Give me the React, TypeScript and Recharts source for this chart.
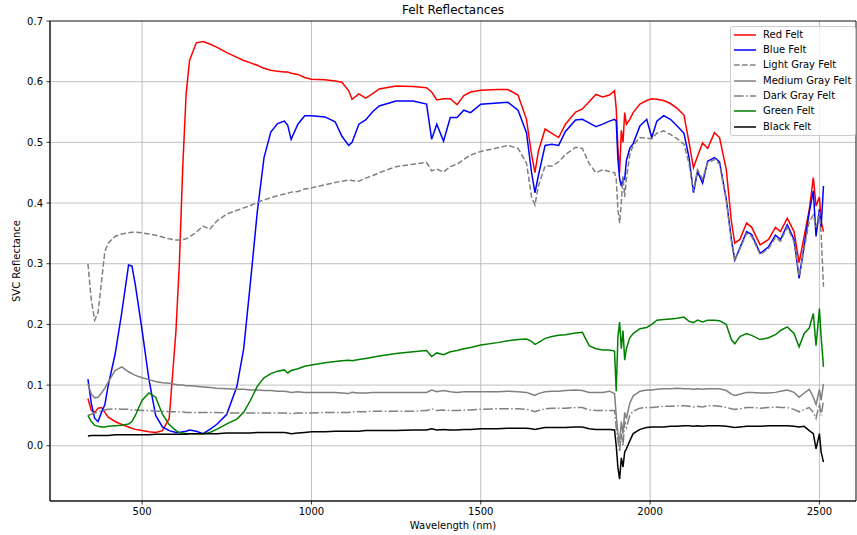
import React from 'react';
import {
  LineChart,
  Line,
  XAxis,
  YAxis,
  CartesianGrid,
  ReferenceArea,
} from 'recharts';

// Wavelength grid (nm) shared by every felt spectrum
const WAVELENGTHS = [
  340, 350, 360, 370, 380, 390, 400, 420, 440, 460,
  470, 480, 500, 520, 540, 560, 580, 600, 610, 620,
  630, 640, 660, 680, 700, 720, 750, 780, 800, 820,
  840, 860, 880, 900, 920, 930, 940, 960, 980, 1000,
  1040, 1070, 1090, 1110, 1120, 1140, 1160, 1180, 1200, 1250,
  1300, 1340, 1355, 1370, 1390, 1410, 1430, 1450, 1470, 1500,
  1550, 1580, 1610, 1635, 1650, 1660, 1670, 1690, 1710, 1730,
  1750, 1780, 1800, 1820, 1840, 1860, 1880, 1895, 1900, 1905,
  1910, 1915, 1920, 1925, 1930, 1940, 1950, 1970, 1990, 2005,
  2020, 2040, 2060, 2080, 2100, 2115, 2128, 2140, 2155, 2170,
  2190, 2205, 2225, 2240, 2250, 2265, 2285, 2300, 2325, 2350,
  2370, 2385, 2405, 2425, 2440, 2455, 2470, 2482, 2490, 2500,
  2505, 2512,
];

const RED_FELT = [
  0.078, 0.058, 0.055, 0.062, 0.063, 0.055, 0.047, 0.040, 0.035, 0.031,
  0.029, 0.027, 0.025, 0.023, 0.022, 0.025, 0.045, 0.19, 0.30, 0.46,
  0.58, 0.635, 0.664, 0.666, 0.662, 0.657, 0.648, 0.640, 0.635, 0.631,
  0.627, 0.622, 0.619, 0.617, 0.616, 0.616, 0.614, 0.612, 0.607, 0.604,
  0.603, 0.601, 0.599, 0.585, 0.571, 0.580, 0.573, 0.580, 0.588, 0.593,
  0.592, 0.590, 0.583, 0.570, 0.572, 0.572, 0.562, 0.577, 0.583, 0.586,
  0.587, 0.587, 0.578, 0.538, 0.480, 0.450, 0.485, 0.522, 0.515, 0.508,
  0.530, 0.550, 0.555, 0.567, 0.579, 0.575, 0.578, 0.585, 0.555, 0.490,
  0.450, 0.520, 0.500, 0.549, 0.530, 0.538, 0.549, 0.563, 0.569, 0.572,
  0.571, 0.569, 0.564, 0.556, 0.545, 0.500, 0.458, 0.477, 0.499, 0.490,
  0.516, 0.508, 0.455, 0.370, 0.334, 0.340, 0.367, 0.360, 0.331, 0.340,
  0.360, 0.353, 0.375, 0.353, 0.302, 0.345, 0.389, 0.442, 0.395, 0.410,
  0.370, 0.353,
];

const BLUE_FELT = [
  0.110, 0.070, 0.045, 0.040, 0.055, 0.068, 0.100, 0.150, 0.220, 0.298,
  0.296, 0.265, 0.190, 0.110, 0.050, 0.031, 0.025, 0.022, 0.022, 0.023,
  0.024, 0.026, 0.024, 0.020, 0.027, 0.035, 0.052, 0.098, 0.160, 0.270,
  0.385, 0.475, 0.517, 0.531, 0.535, 0.528, 0.505, 0.530, 0.544, 0.544,
  0.542, 0.534, 0.510, 0.495, 0.500, 0.530, 0.537, 0.550, 0.560, 0.568,
  0.568, 0.563, 0.505, 0.530, 0.502, 0.541, 0.541, 0.553, 0.549, 0.563,
  0.565, 0.566, 0.553, 0.516, 0.450, 0.417, 0.445, 0.495, 0.497, 0.495,
  0.518, 0.537, 0.538, 0.532, 0.526, 0.530, 0.535, 0.538, 0.535, 0.472,
  0.440, 0.428, 0.440, 0.439, 0.470, 0.490, 0.498, 0.527, 0.538, 0.508,
  0.535, 0.544, 0.538, 0.527, 0.515, 0.475, 0.417, 0.452, 0.433, 0.469,
  0.475, 0.468, 0.406, 0.340, 0.306, 0.326, 0.353, 0.348, 0.317, 0.328,
  0.347, 0.340, 0.364, 0.340, 0.276, 0.330, 0.385, 0.420, 0.345, 0.390,
  0.360, 0.428,
];

const LIGHT_GRAY_FELT = [
  0.300, 0.240, 0.207, 0.220, 0.270, 0.320, 0.334, 0.345, 0.349, 0.351,
  0.352, 0.352, 0.351, 0.349, 0.347, 0.344, 0.341, 0.339, 0.339, 0.340,
  0.341, 0.344, 0.352, 0.362, 0.357, 0.370, 0.382, 0.388, 0.392, 0.396,
  0.401, 0.405, 0.409, 0.412, 0.415, 0.416, 0.418, 0.419, 0.423, 0.425,
  0.430, 0.434, 0.436, 0.438, 0.437, 0.436, 0.441, 0.445, 0.450, 0.460,
  0.464, 0.467, 0.453, 0.456, 0.451, 0.460, 0.464, 0.472, 0.479, 0.485,
  0.491, 0.495, 0.490, 0.466, 0.410, 0.397, 0.428, 0.461, 0.461, 0.468,
  0.480, 0.492, 0.490, 0.465, 0.450, 0.455, 0.452, 0.450, 0.440, 0.389,
  0.367, 0.400, 0.444, 0.410, 0.440, 0.480, 0.495, 0.508, 0.507, 0.506,
  0.515, 0.519, 0.513, 0.506, 0.497, 0.465, 0.420, 0.455, 0.440, 0.466,
  0.472, 0.464, 0.405, 0.338, 0.305, 0.324, 0.350, 0.345, 0.315, 0.325,
  0.343, 0.337, 0.360, 0.336, 0.280, 0.325, 0.370, 0.380, 0.360, 0.385,
  0.350, 0.262,
];

const MEDIUM_GRAY_FELT = [
  0.102, 0.085, 0.079, 0.080, 0.087, 0.095, 0.105, 0.124, 0.130, 0.122,
  0.119, 0.116, 0.112, 0.109, 0.106, 0.104, 0.103, 0.101, 0.100, 0.100,
  0.099, 0.099, 0.098, 0.097, 0.096, 0.095, 0.094, 0.093, 0.093, 0.092,
  0.092, 0.091, 0.091, 0.090, 0.090, 0.089, 0.088, 0.089, 0.088, 0.088,
  0.088, 0.088, 0.087, 0.086, 0.088, 0.087, 0.087, 0.088, 0.088, 0.088,
  0.088, 0.088, 0.092, 0.089, 0.091, 0.089, 0.088, 0.089, 0.089, 0.089,
  0.089, 0.090, 0.089, 0.088, 0.085, 0.083, 0.086, 0.089, 0.090, 0.090,
  0.091, 0.092, 0.091, 0.088, 0.088, 0.088, 0.090, 0.086, 0.050, 0.020,
  0.005, 0.040, 0.020, 0.055, 0.045, 0.070, 0.082, 0.090, 0.092, 0.092,
  0.093, 0.094, 0.094, 0.095, 0.094, 0.094, 0.093, 0.094, 0.093, 0.094,
  0.094, 0.094, 0.091, 0.085, 0.083, 0.085, 0.088, 0.088, 0.087, 0.087,
  0.088, 0.090, 0.092, 0.088, 0.080, 0.087, 0.093, 0.080, 0.068, 0.093,
  0.075, 0.102,
];

const DARK_GRAY_FELT = [
  0.050, 0.052, 0.054, 0.056, 0.058, 0.059, 0.060, 0.061, 0.060, 0.060,
  0.059, 0.059, 0.058, 0.058, 0.057, 0.057, 0.056, 0.056, 0.056, 0.056,
  0.055, 0.055, 0.055, 0.055, 0.055, 0.055, 0.054, 0.054, 0.054, 0.054,
  0.054, 0.054, 0.054, 0.054, 0.054, 0.054, 0.053, 0.054, 0.054, 0.054,
  0.055, 0.055, 0.055, 0.055, 0.056, 0.056, 0.056, 0.057, 0.057, 0.057,
  0.057, 0.058, 0.061, 0.058, 0.059, 0.058, 0.058, 0.059, 0.059, 0.060,
  0.061, 0.061, 0.061, 0.060, 0.058, 0.056, 0.058, 0.061, 0.062, 0.062,
  0.062, 0.063, 0.063, 0.059, 0.058, 0.058, 0.058, 0.058, 0.030, 0.010,
  -0.010, 0.020, 0.000, 0.040, 0.030, 0.050, 0.057, 0.062, 0.063, 0.063,
  0.064, 0.065, 0.065, 0.066, 0.066, 0.065, 0.064, 0.065, 0.064, 0.066,
  0.066, 0.065, 0.063, 0.061, 0.060, 0.061, 0.063, 0.063, 0.062, 0.063,
  0.064, 0.063, 0.063, 0.060, 0.056, 0.060, 0.063, 0.055, 0.045, 0.070,
  0.050, 0.075,
];

const GREEN_FELT = [
  0.050, 0.040, 0.034, 0.032, 0.031, 0.031, 0.032, 0.033, 0.034, 0.036,
  0.040, 0.050, 0.075, 0.087, 0.080, 0.052, 0.035, 0.025, 0.022, 0.021,
  0.020, 0.020, 0.020, 0.020, 0.022, 0.027, 0.036, 0.044, 0.055, 0.075,
  0.098, 0.112, 0.119, 0.123, 0.125, 0.120, 0.124, 0.127, 0.131, 0.133,
  0.137, 0.139, 0.140, 0.141, 0.140, 0.142, 0.144, 0.146, 0.148, 0.152,
  0.155, 0.157, 0.147, 0.153, 0.150, 0.155, 0.157, 0.160, 0.162, 0.166,
  0.170, 0.173, 0.175, 0.176, 0.172, 0.167, 0.170, 0.177, 0.180, 0.182,
  0.183, 0.186, 0.187, 0.165, 0.160, 0.158, 0.158, 0.156, 0.090, 0.180,
  0.204, 0.160, 0.190, 0.141, 0.160, 0.178, 0.185, 0.193, 0.195, 0.200,
  0.207, 0.208, 0.209, 0.210, 0.212, 0.205, 0.203, 0.207, 0.204, 0.207,
  0.207, 0.206, 0.200, 0.175, 0.168, 0.180, 0.185, 0.182, 0.175, 0.178,
  0.183, 0.190, 0.196, 0.185, 0.163, 0.185, 0.194, 0.218, 0.165, 0.226,
  0.180, 0.130,
];

const BLACK_FELT = [
  0.016, 0.017, 0.017, 0.017, 0.017, 0.017, 0.017, 0.018, 0.018, 0.018,
  0.018, 0.018, 0.018, 0.018, 0.019, 0.019, 0.019, 0.019, 0.019, 0.019,
  0.019, 0.020, 0.020, 0.020, 0.020, 0.020, 0.021, 0.021, 0.021, 0.021,
  0.022, 0.022, 0.022, 0.022, 0.022, 0.021, 0.020, 0.021, 0.022, 0.023,
  0.023, 0.024, 0.024, 0.024, 0.024, 0.024, 0.025, 0.025, 0.025, 0.025,
  0.026, 0.026, 0.028, 0.026, 0.027, 0.026, 0.026, 0.027, 0.027, 0.028,
  0.028, 0.029, 0.029, 0.029, 0.028, 0.027, 0.028, 0.030, 0.030, 0.030,
  0.030, 0.031, 0.031, 0.028, 0.027, 0.027, 0.027, 0.026, 0.000, -0.036,
  -0.055, -0.020, -0.035, -0.010, -0.005, 0.008, 0.020, 0.027, 0.030, 0.031,
  0.031, 0.031, 0.032, 0.032, 0.033, 0.033, 0.032, 0.033, 0.032, 0.033,
  0.033, 0.033, 0.032, 0.031, 0.030, 0.031, 0.032, 0.032, 0.032, 0.033,
  0.033, 0.033, 0.033, 0.032, 0.031, 0.032, 0.025, 0.020, -0.005, 0.020,
  -0.010, -0.027,
];

const X_TICKS = [500, 1000, 1500, 2000, 2500];
const Y_TICKS = [0, 0.1, 0.2, 0.3, 0.4, 0.5, 0.6, 0.7];
const X_DOMAIN: [number, number] = [228, 2608];
const Y_DOMAIN: [number, number] = [-0.091, 0.7];

// matplotlib-style dash patterns for a 1.5px line
const DASHED = '5.55 2.4';
const DASH_DOT = '9.6 2.4 1.5 2.4';

const SERIES = [
  { key: 'red', name: 'Red Felt', color: '#ff0000', dash: undefined, values: RED_FELT },
  { key: 'blue', name: 'Blue Felt', color: '#0000ff', dash: undefined, values: BLUE_FELT },
  { key: 'lightGray', name: 'Light Gray Felt', color: '#808080', dash: DASHED, values: LIGHT_GRAY_FELT },
  { key: 'mediumGray', name: 'Medium Gray Felt', color: '#808080', dash: undefined, values: MEDIUM_GRAY_FELT },
  { key: 'darkGray', name: 'Dark Gray Felt', color: '#808080', dash: DASH_DOT, values: DARK_GRAY_FELT },
  { key: 'green', name: 'Green Felt', color: '#008000', dash: undefined, values: GREEN_FELT },
  { key: 'black', name: 'Black Felt', color: '#000000', dash: undefined, values: BLACK_FELT },
];

const rows = WAVELENGTHS.map((wl, i) => {
  const row: Record<string, number> = { wl };
  SERIES.forEach((s) => {
    row[s.key] = s.values[i];
  });
  return row;
});

const FONT = "'DejaVu Sans', sans-serif";

const LegendBox = () => (
  <div
    style={{
      position: 'absolute',
      left: 730,
      top: 26,
      width: 124,
      height: 108,
      border: '1px solid #cccccc',
      borderRadius: 3,
      background: 'rgba(255,255,255,0.8)',
      fontSize: 10,
    }}
  >
    {SERIES.map((s, i) => (
      <div
        key={s.key}
        style={{
          position: 'absolute',
          left: 0,
          top: 0.8 + i * 15.3,
          height: 14,
          lineHeight: '14px',
          whiteSpace: 'nowrap',
        }}
      >
        <svg width={28} height={14} style={{ position: 'absolute', left: 0, top: 0 }}>
          <line
            x1={3}
            x2={25}
            y1={7}
            y2={7}
            stroke={s.color}
            strokeWidth={1.5}
            strokeDasharray={s.dash}
          />
        </svg>
        <span style={{ position: 'absolute', left: 32, top: 0, color: '#000' }}>{s.name}</span>
      </div>
    ))}
  </div>
);

const App = () => {
  return (
    <div
      style={{
        position: 'absolute',
        left: 0,
        top: 0,
        width: 857,
        height: 535,
        background: '#ffffff',
        fontFamily: FONT,
        color: '#000',
      }}
    >
      <div
        style={{
          position: 'absolute',
          left: 50,
          top: 0,
          width: 806,
          height: 20,
          lineHeight: '20px',
          textAlign: 'center',
          fontSize: 12,
        }}
      >
        Felt Reflectances
      </div>
      <LineChart
        width={857}
        height={535}
        data={rows}
        margin={{ top: 21, right: 1, bottom: 0, left: 0 }}
      >
        <CartesianGrid stroke="#b0b0b0" strokeWidth={0.8} />
        <XAxis
          type="number"
          dataKey="wl"
          domain={X_DOMAIN}
          ticks={X_TICKS}
          allowDataOverflow
          height={34}
          tickSize={3.5}
          tickMargin={3}
          stroke="#000"
          strokeWidth={0.8}
          tick={{ fill: '#000', fontSize: 10 }}
        />
        <YAxis
          type="number"
          domain={Y_DOMAIN}
          ticks={Y_TICKS}
          allowDataOverflow
          width={50}
          tickSize={3.5}
          tickMargin={3.5}
          stroke="#000"
          strokeWidth={0.8}
          tick={{ fill: '#000', fontSize: 10 }}
          tickFormatter={(v: number) => v.toFixed(1)}
        />
        <ReferenceArea
          x1={X_DOMAIN[0]}
          x2={X_DOMAIN[1]}
          y1={Y_DOMAIN[0]}
          y2={Y_DOMAIN[1]}
          fill="none"
          fillOpacity={0}
          stroke="#000"
          strokeWidth={0.8}
        />
        {SERIES.map((s) => (
          <Line
            key={s.key}
            type="linear"
            dataKey={s.key}
            name={s.name}
            stroke={s.color}
            strokeWidth={1.5}
            strokeDasharray={s.dash}
            dot={false}
            activeDot={false}
            isAnimationActive={false}
          />
        ))}
      </LineChart>
      <div
        style={{
          position: 'absolute',
          left: 50,
          top: 518,
          width: 806,
          height: 16,
          lineHeight: '16px',
          textAlign: 'center',
          fontSize: 10,
        }}
      >
        Wavelength (nm)
      </div>
      <div
        style={{
          position: 'absolute',
          left: 17 - 100,
          top: 261 - 8,
          width: 200,
          height: 16,
          lineHeight: '16px',
          textAlign: 'center',
          fontSize: 10,
          transform: 'rotate(-90deg)',
          transformOrigin: 'center',
        }}
      >
        SVC Reflectance
      </div>
      <LegendBox />
    </div>
  );
};

export default App;
